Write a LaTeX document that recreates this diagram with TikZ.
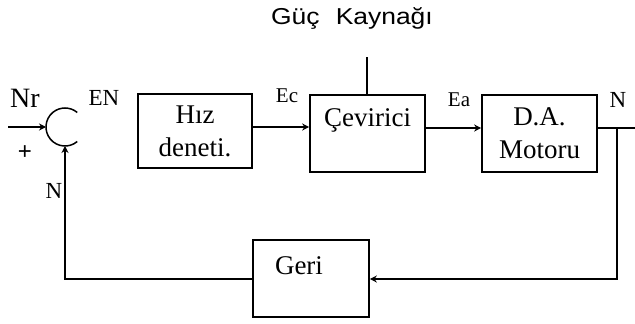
\documentclass[tikz,border=0pt]{standalone}
\usepackage{fontspec}
\setmainfont{Liberation Serif}
\newfontfamily\gsans{Liberation Sans}
\usetikzlibrary{arrows.meta,calc}
\begin{document}
\begin{tikzpicture}[x=1pt,y=-1pt,
  blk/.style={draw, line width=1.6pt, inner sep=0pt, align=center,
    font=\fontsize{27}{33}\selectfont},
  ln/.style={line width=1.3pt},
  arr/.style={ln, -{Stealth[length=7pt,width=7pt]}},
  lbl/.style={inner sep=0pt, font=\fontsize{23}{26}\selectfont}]
\useasboundingbox (0,0) rectangle (635,324);
% blocks
\node[blk, minimum width=114pt, minimum height=74pt] (hiz) at (195,131) {Hız\\deneti.};
\node[blk, minimum width=115pt, minimum height=77pt] (cev) at (367.5,133.5) {\raisebox{31pt}{Çevirici}};
\node[blk, minimum width=115pt, minimum height=77pt] (mot) at (539.5,133.5) {D.A.\\Motoru};
\node[blk, minimum width=116pt, minimum height=77pt] (geri) at (311,278.5) {\raisebox{25pt}{Geri}\hspace{24pt}};
% coordinates
\coordinate (ya) at (0,127);
\coordinate (yb) at (0,128);
\coordinate (fb) at (0,279);
\coordinate (sum) at (65,127);
\coordinate (sumW) at (46,127);
\coordinate (sumS) at (65,146);
\coordinate (nrin) at (8,127);
\coordinate (c1) at (65,279);
\coordinate (br) at (617,128);
\coordinate (out) at (635,128);
\coordinate (pw) at (367,57);
% summing junction
\draw[ln, line width=1.5pt] ([shift={(50:19)}]sum) arc[start angle=50, end angle=310, radius=19];
% connectors
\draw[arr, line width=2pt] (nrin) -- (sumW);
\draw[arr] (hiz.east |- ya) -- (cev.west |- ya);
\draw[arr] (cev.east |- yb) -- (mot.west |- yb);
\draw[ln] (mot.east |- yb) -- (out);
\draw[arr] (br) -- (br |- fb) -- (geri.east |- fb);
\draw[arr] (geri.west |- fb) -- (c1) -- (sumS);
\draw[ln] (pw) -- (pw |- cev.north);
% labels
\node[font=\gsans\fontsize{23}{26}\selectfont, inner sep=0pt, xscale=1.15] (gk) at (352,18) {Güç\hspace{14pt}Kaynağı};
\node[lbl, font=\fontsize{28}{30}\selectfont] (nr) at (25,98) {Nr};
\node[lbl] (en) at (104,98) {EN};
\node[lbl, font=\fontsize{21}{24}\selectfont] (ec) at (287,96) {Ec};
\node[lbl, font=\fontsize{21}{24}\selectfont] (ea) at (459,100) {Ea};
\node[lbl] (nout) at (618,100) {N};
\node[lbl] (nfb) at (54,191) {N};
\node[lbl, font=\gsans\fontsize{24}{26}\selectfont] (plus) at (25,153) {+};
\end{tikzpicture}
\end{document}
